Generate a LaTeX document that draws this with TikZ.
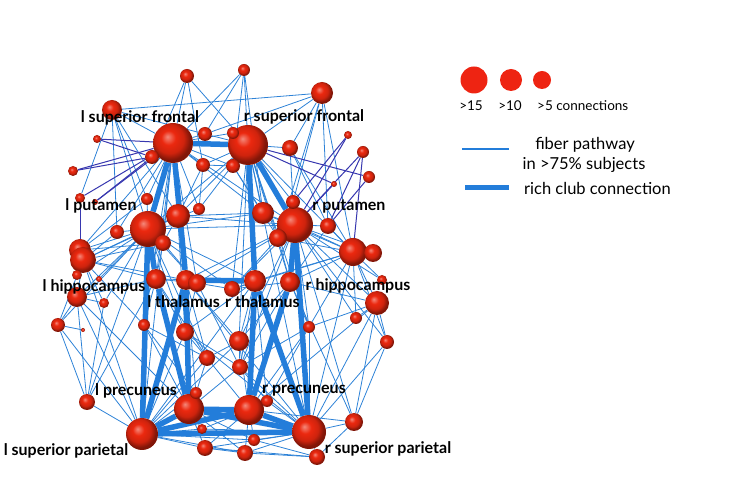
\documentclass[tikz,border=0pt]{standalone}
\usepackage{fontspec}
\setmainfont{Lato}
\pgfdeclarelayer{sfondo}
\pgfsetlayers{sfondo,main}
\definecolor{blufibra}{RGB}{45,130,215}
\definecolor{bluscuro}{RGB}{55,55,175}
\definecolor{blurich}{RGB}{35,125,218}
\definecolor{rossolegenda}{RGB}{238,36,18}
\definecolor{rossosfera}{RGB}{235,40,15}
\pgfdeclareradialshading{sferarossa}{\pgfpoint{-7bp}{8bp}}{color(0bp)=(rossosfera!55!white);
  color(9bp)=(rossosfera); color(18bp)=(rossosfera!88!black); color(25bp)=(rossosfera!55!black);
  color(50bp)=(rossosfera!55!black)}
\tikzset{
sfera/.style={circle,inner sep=0pt,shading=sferarossa},
fibra/.style={blufibra,line width=0.8pt},
fibra scura/.style={bluscuro,line width=1pt},
rich/.style={blurich,line width=5.5pt},
etichetta/.style={font=\bfseries\fontsize{16}{18}\selectfont,inner sep=0pt},
legenda/.style={font=\fontsize{16.5}{18}\selectfont,inner sep=0pt},
punto/.style={circle,inner sep=0pt,fill=rossolegenda}}

\begin{document}
\begin{tikzpicture}[x=1pt,y=-1pt]
\useasboundingbox (0,0) rectangle (750,502);

% hubs
\node[sfera,minimum size=40pt] (lsf) at (173,143) {};
\node[sfera,minimum size=40pt] (rsf) at (248,145) {};
\node[sfera,minimum size=36pt] (lput) at (148,229) {};
\node[sfera,minimum size=36pt] (rput) at (295,225) {};
\node[sfera,minimum size=20pt] (lhip) at (156,279) {};
\node[sfera,minimum size=20pt] (ltha) at (186,280) {};
\node[sfera,minimum size=22pt] (rtha) at (255,281) {};
\node[sfera,minimum size=20pt] (rhip) at (290,282) {};
\node[sfera,minimum size=30pt] (lprec) at (189,409) {};
\node[sfera,minimum size=30pt] (rprec) at (249,410) {};
\node[sfera,minimum size=32pt] (lsp) at (142,434) {};
\node[sfera,minimum size=34pt] (rsp) at (309,432) {};

% other regions
\node[sfera,minimum size=14pt] (n1) at (187,76) {};
\node[sfera,minimum size=12pt] (n2) at (244,70) {};
\node[sfera,minimum size=22pt] (n3) at (322,93) {};
\node[sfera,minimum size=20pt] (n4) at (112,110) {};
\node[sfera,minimum size=14pt] (n5) at (205,134) {};
\node[sfera,minimum size=12pt] (n6) at (233,133) {};
\node[sfera,minimum size=8pt] (n7) at (97,139) {};
\node[sfera,minimum size=8pt] (n8) at (348,135) {};
\node[sfera,minimum size=16pt] (n9) at (290,148) {};
\node[sfera,minimum size=12pt] (n10) at (363,152) {};
\node[sfera,minimum size=14pt] (n11) at (152,157) {};
\node[sfera,minimum size=10pt] (n12) at (73,171) {};
\node[sfera,minimum size=14pt] (n13) at (203,165) {};
\node[sfera,minimum size=14pt] (n14) at (233,166) {};
\node[sfera,minimum size=12pt] (n15) at (369,177) {};
\node[sfera,minimum size=6pt] (n16) at (334,184) {};
\node[sfera,minimum size=10pt] (n17) at (80,198) {};
\node[sfera,minimum size=6pt] (n18) at (95,202) {};
\node[sfera,minimum size=12pt] (n19) at (147,199) {};
\node[sfera,minimum size=14pt] (n20) at (293,202) {};
\node[sfera,minimum size=12pt] (n21) at (199,209) {};
\node[sfera,minimum size=24pt] (n22) at (178,216) {};
\node[sfera,minimum size=22pt] (n23) at (263,213) {};
\node[sfera,minimum size=16pt] (n24) at (328,226) {};
\node[sfera,minimum size=14pt] (n25) at (117,232) {};
\node[sfera,minimum size=16pt] (n26) at (163,243) {};
\node[sfera,minimum size=18pt] (n27) at (278,238) {};
\node[sfera,minimum size=22pt] (n28) at (80,250) {};
\node[sfera,minimum size=26pt] (n29) at (83,260) {};
\node[sfera,minimum size=28pt] (n30) at (353,252) {};
\node[sfera,minimum size=18pt] (n31) at (373,253) {};
\node[sfera,minimum size=10pt] (n32) at (77,275) {};
\node[sfera,minimum size=6pt] (n33) at (99,279) {};
\node[sfera,minimum size=18pt] (n34) at (197,283) {};
\node[sfera,minimum size=16pt] (n35) at (232,289) {};
\node[sfera,minimum size=10pt] (n36) at (382,280) {};
\node[sfera,minimum size=20pt] (n37) at (77,297) {};
\node[sfera,minimum size=10pt] (n38) at (104,303) {};
\node[sfera,minimum size=24pt] (n39) at (377,303) {};
\node[sfera,minimum size=14pt] (n40) at (58,325) {};
\node[sfera,minimum size=4pt] (n41) at (83,330) {};
\node[sfera,minimum size=12pt] (n42) at (144,325) {};
\node[sfera,minimum size=12pt] (n43) at (356,318) {};
\node[sfera,minimum size=12pt] (n44) at (309,327) {};
\node[sfera,minimum size=18pt] (n45) at (185,332) {};
\node[sfera,minimum size=20pt] (n46) at (239,341) {};
\node[sfera,minimum size=14pt] (n47) at (387,342) {};
\node[sfera,minimum size=16pt] (n48) at (207,358) {};
\node[sfera,minimum size=16pt] (n49) at (240,367) {};
\node[sfera,minimum size=16pt] (n50) at (87,402) {};
\node[sfera,minimum size=12pt] (n51) at (196,393) {};
\node[sfera,minimum size=12pt] (n52) at (267,401) {};
\node[sfera,minimum size=18pt] (n53) at (354,422) {};
\node[sfera,minimum size=10pt] (n54) at (202,429) {};
\node[sfera,minimum size=12pt] (n55) at (254,440) {};
\node[sfera,minimum size=16pt] (n56) at (205,448) {};
\node[sfera,minimum size=16pt] (n57) at (245,453) {};
\node[sfera,minimum size=16pt] (n58) at (317,457) {};

\begin{pgfonlayer}{sfondo}
% fiber pathways
\path[fibra] (n1) edge (lsf) edge (rsf) edge (n11) edge (n13);
\path[fibra] (n2) edge (n5) edge (rsf) edge (n23) edge (n14) edge (lsf);
\path[fibra] (n3) edge (rsf) edge (n5) edge (n9) edge (n20) edge (n30) edge (n27) edge (n24) edge (n4);
\path[fibra] (n4) edge (lsf) edge (n5) edge (n25) edge (lput) edge (n19) edge (n17) edge (n22);
\path[fibra] (n5) edge (lsf) edge (rsf);
\path[fibra] (n6) edge (lsf) edge (rsf);
\path[fibra] (n9) edge (n20) edge (n30) edge (n24);
\path[fibra] (lsf) edge (n22) edge (n26) edge (n21) edge (n14) edge (n23) edge (lhip) edge (n28)
  edge (n25) edge (n42) edge (n19) edge (n13) edge (lsp) edge (n45) edge (n34) edge (rput);
\path[fibra] (rsf) edge (n13) edge (n22) edge (n21) edge (n27) edge (n20) edge (n9) edge (n35)
  edge (n46) edge (n23) edge (rhip) edge (n30) edge (rsp) edge (lput) edge (n44);
\path[fibra] (lput) edge (n28) edge (n29) edge (n25) edge (n32) edge (n33) edge (n34) edge (n22)
  edge (n26) edge (n38) edge (n37) edge (n40) edge (n42) edge (n45) edge (n50) edge (n48)
  edge (rtha) edge (n35) edge (n21) edge (n19) edge (rput) edge (n23);
\path[fibra] (rput) edge (n30) edge (n31) edge (n24) edge (n27) edge (n35) edge (n39) edge (n36)
  edge (n43) edge (n44) edge (n46) edge (n23) edge (ltha) edge (n34) edge (n20) edge (n47)
  edge (n53) edge (n49) edge (n22);
\path[fibra] (n29) edge (lhip) edge (ltha) edge (n32) edge (n37) edge (n40) edge (lsp) edge (n42)
  edge (n25) edge (n38) edge (n26) edge (n22);
\path[fibra] (n28) edge (n19) edge (n17) edge (n26);
\path[fibra] (n30) edge (rhip) edge (rtha) edge (n39) edge (n43) edge (n44) edge (rsp) edge (n47)
  edge (n36) edge (n27) edge (n23) edge (n35);
\path[fibra] (lhip) edge (n34) edge (rtha) edge (n45) edge (n48) edge (n37) edge (n42) edge (n50);
\path[fibra] (rhip) edge (n35) edge (n44) edge (n46) edge (n49) edge (n39) edge (n53);
\path[fibra] (ltha) edge (n34) edge (n45) edge (n51) edge (n48) edge (n46) edge (rsp);
\path[fibra] (rtha) edge (n35) edge (n46) edge (n49) edge (n45) edge (n52) edge (lsp);
\path[fibra] (n34) edge (n35) edge (n45) edge (n49);
\path[fibra] (n37) edge (n40) edge (n38) edge (lsp) edge (n50) edge (lprec);
\path[fibra] (n39) edge (n43) edge (rsp) edge (n47) edge (n53) edge (rprec) edge (n44);
\path[fibra] (n40) edge (n50) edge (lsp) edge (n41);
\path[fibra] (n47) edge (n53) edge (rsp);
\path[fibra] (n42) edge (lprec) edge (n48) edge (lsp) edge (n51);
\path[fibra] (n44) edge (rsp) edge (n49) edge (rprec) edge (n52);
\path[fibra] (n45) edge (n48) edge (lprec) edge (rsp) edge (n49);
\path[fibra] (n46) edge (n49) edge (rprec) edge (lsp) edge (n48);
\path[fibra] (n48) edge (rprec) edge (lsp) edge (n51);
\path[fibra] (n49) edge (lprec) edge (rsp) edge (n52);
\path[fibra] (n50) edge (lsp) edge (n38);
\path[fibra] (n53) edge (rsp) edge (n58) edge (rprec);
\path[fibra] (lsp) edge (n54) edge (n56) edge (n57) edge (n55) edge (n51) edge (n45);
\path[fibra] (rsp) edge (n57) edge (n58) edge (n55) edge (n54) edge (n56) edge (n52);
\path[fibra] (lprec) edge (n51) edge (n54) edge (n56) edge (n55) edge (n57);
\path[fibra] (rprec) edge (n52) edge (n55) edge (n57) edge (n54) edge (n56);
\path[fibra] (n56) edge (n57) edge (n58);
\path[fibra] (n57) edge (n58);
\path[fibra] (n55) edge (n58);
\path[fibra] (n13) edge (n14) edge (n22) edge (n21);
\path[fibra] (n14) edge (n23) edge (n27);
\path[fibra] (n22) edge (n23) edge (n26);
\path[fibra] (n26) edge (lhip) edge (n34);
\path[fibra] (n27) edge (rhip) edge (n35);
\path[fibra] (n24) edge (n30) edge (rhip);
% darker pathways
\path[fibra scura] (n7) edge (lsf) edge (n11);
\path[fibra scura] (n12) edge (lsf) edge (n11);
\path[fibra scura] (n17) edge (lsf) edge (n28);
\path[fibra scura] (n18) edge (n11) edge (lsf);
\path[fibra scura] (n15) edge (rsf) edge (n24);
\path[fibra scura] (n8) edge (rput) edge (n20);
\path[fibra scura] (n10) edge (rput) edge (n24) edge (n30);
\path[fibra scura] (n16) edge (rput) edge (rsf);
% rich club
\path[rich] (lsf) edge (rsf) edge (lput) edge (ltha);
\path[rich] (rsf) edge (rput) edge (rtha);
\path[rich] (lput) edge (lsp) edge (lhip);
\path[rich] (rput) edge (rsp) edge (rhip);
\path[rich] (ltha) edge (lprec) edge (lsp) edge (rtha);
\path[rich] (rtha) edge (rprec) edge (rsp);
\path[rich] (lhip) edge (lprec);
\path[rich] (rhip) edge (rprec);
\path[rich] (lsp) edge (rsp) edge (lprec) edge (rprec);
\path[rich] (rsp) edge (rprec) edge (lprec);
\path[rich] (lprec) edge (rprec);
\end{pgfonlayer}

% labels
\node[etichetta] (tlsf) at (140,118) {l superior frontal};
\node[etichetta] (trsf) at (304,117) {r superior frontal};
\node[etichetta] (tlput) at (101,206) {l putamen};
\node[etichetta] (trput) at (349,206) {r putamen};
\node[etichetta] (tlhip) at (94,287) {l hippocampus};
\node[etichetta] (trhip) at (358,286) {r hippocampus};
\node[etichetta,anchor=east] (tltha) at (220,302) {l thalamus};
\node[etichetta,anchor=west] (trtha) at (225,302) {r thalamus};
\node[etichetta] (tlprec) at (136,391) {l precuneus};
\node[etichetta] (trprec) at (304,391) {r precuneus};
\node[etichetta] (tlsp) at (66,451) {l superior parietal};
\node[etichetta] (trsp) at (388,449) {r superior parietal};

% legend
\node[punto,minimum size=27pt] (p15) at (474,80) {};
\node[punto,minimum size=22pt] (p10) at (511,80) {};
\node[punto,minimum size=18pt] (p5) at (542,80) {};
\node[legenda,font=\fontsize{13.5}{15}\selectfont] (t15) at (471,106) {>15};
\node[legenda,font=\fontsize{13.5}{15}\selectfont] (t10) at (510,106) {>10};
\node[legenda,font=\fontsize{13.5}{15}\selectfont,anchor=west] (t5) at (537,106) {>5 connections};
\coordinate (f1) at (462,149);
\coordinate (f2) at (509,149);
\draw[blurich,line width=1.5pt] (f1) -- (f2);
\node[legenda] (tf1) at (585,145) {fiber pathway};
\node[legenda] (tf2) at (584,165) {in >75\% subjects};
\coordinate (r1) at (465,188);
\coordinate (r2) at (509,188);
\draw[blurich,line width=5pt] (r1) -- (r2);
\node[legenda,anchor=west] (tr) at (524,188) {rich club connection};

\end{tikzpicture}
\end{document}
